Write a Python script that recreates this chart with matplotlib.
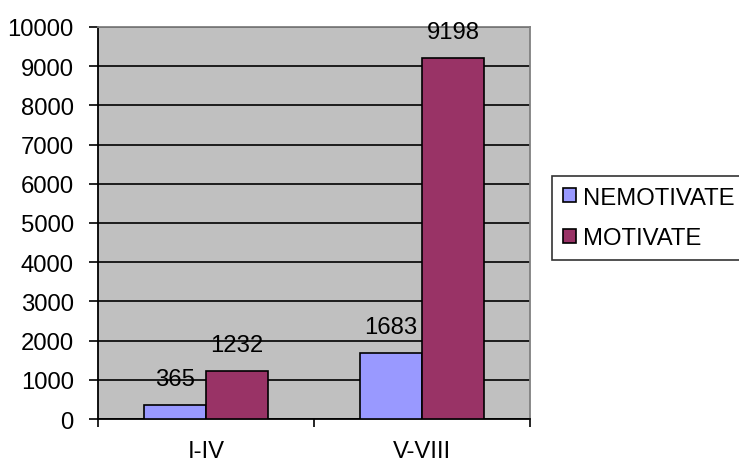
import matplotlib
matplotlib.use("Agg")
import matplotlib.pyplot as plt
import numpy as np

plt.rcParams['font.family'] = ['Liberation Sans', 'DejaVu Sans']

# data
categories = ['I-IV', 'V-VIII']
nemotivate = [365, 1683]
motivate = [1232, 9198]
series_names = ['NEMOTIVATE', 'MOTIVATE']
yticks = list(range(0, 10001, 1000))

fs = 17.2
fig = plt.figure(figsize=(7.39, 4.64), dpi=100)
ax = fig.add_axes([0.1326, 0.0948, 0.7172 - 0.1326, 0.9397 - 0.0948])
ax.set_facecolor('#C0C0C0')

x = np.arange(len(categories))
w = 0.287
b1 = ax.bar(x - w / 2, nemotivate, w, color='#9999FF', edgecolor='black', lw=1.2,
            label=series_names[0], zorder=3)
b2 = ax.bar(x + w / 2, motivate, w, color='#993366', edgecolor='black', lw=1.2,
            label=series_names[1], zorder=3)

for bars, vals in ((b1, nemotivate), (b2, motivate)):
    for r, v in zip(bars, vals):
        ax.annotate(str(v), (r.get_x() + r.get_width() / 2, v),
                    xytext=(0, 14.5), textcoords='offset points',
                    ha='center', va='baseline', fontsize=fs, zorder=4)

ax.set_xlim(-0.5, 1.5)
ax.set_ylim(0, 10000)
ax.set_yticks(yticks)
ax.yaxis.grid(True, color='black', lw=1.2, zorder=1)
ax.tick_params(axis='y', length=6.5, width=1.2, direction='out', pad=11, labelsize=fs)

ax.set_xticks(x)
ax.set_xticklabels(categories)
ax.set_xticks([-0.5, 0.5, 1.5], minor=True)
ax.tick_params(axis='x', which='major', length=0, pad=15, labelsize=fs)
ax.tick_params(axis='x', which='minor', length=6, width=1.2, direction='out')

for s in ('left', 'bottom'):
    ax.spines[s].set_color('black')
    ax.spines[s].set_linewidth(1.3)
for s in ('top', 'right'):
    ax.spines[s].set_color('#808080')
    ax.spines[s].set_linewidth(1.3)

leg = fig.legend(handles=[b1, b2], loc='upper left',
                 bbox_to_anchor=(552 / 739, 1 - 177 / 464), fontsize=fs,
                 frameon=True, fancybox=False, edgecolor='black',
                 handlelength=0.55, handleheight=0.55, handletextpad=0.3,
                 labelspacing=0.78, borderpad=0.45, borderaxespad=0)
leg.get_frame().set_linewidth(1.2)

fig.savefig('out.png', dpi=100)
